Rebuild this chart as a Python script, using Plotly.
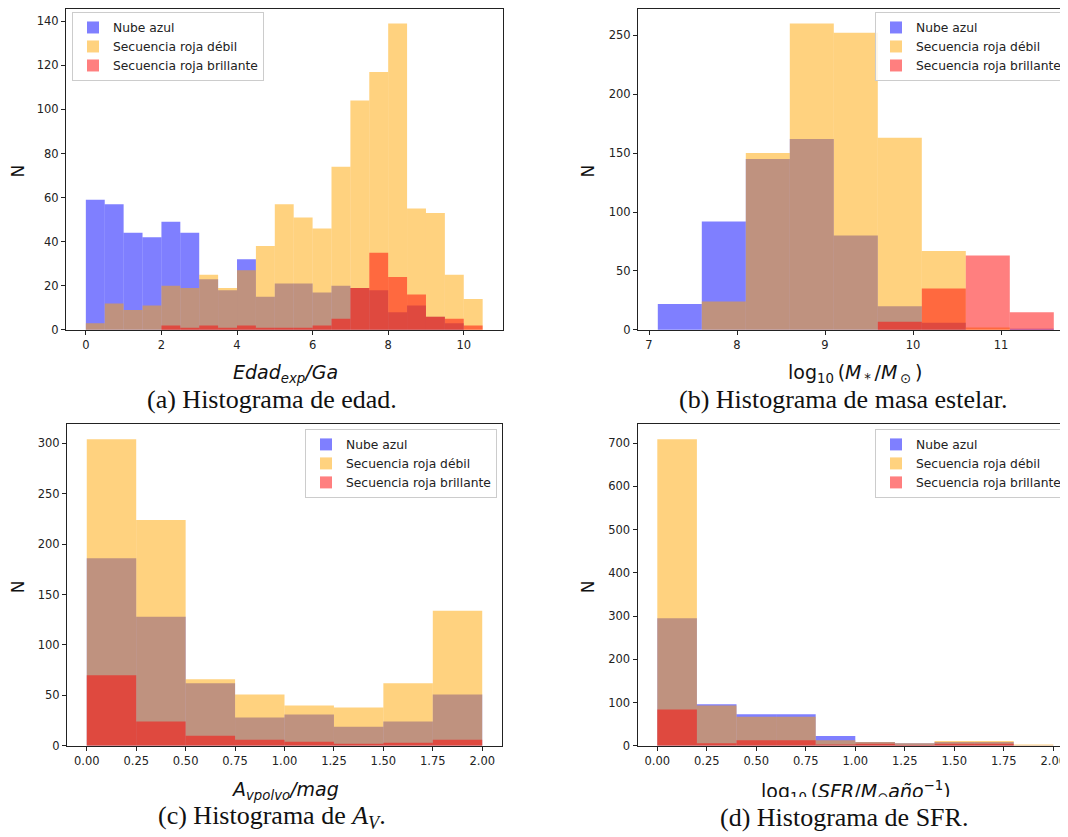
import plotly.graph_objects as go

# the page body adds an 8px margin, so the figure is drawn 8px smaller and
# every reference pixel position is shifted by OFF
OFF = 8
W, H = 1068 - OFF, 837 - OFF

series_names = ["Nube azul", "Secuencia roja débil", "Secuencia roja brillante"]
series_colors = ["rgba(0,0,255,0.5)", "rgba(255,165,0,0.5)", "rgba(255,0,0,0.5)"]

# (a) Edad
edad_edges = [0.0, 0.5, 1.0, 1.5, 2.0, 2.5, 3.0, 3.5, 4.0, 4.5, 5.0, 5.5, 6.0, 6.5, 7.0, 7.5, 8.0, 8.5, 9.0, 9.5, 10.0, 10.5]
edad_azul = [59, 57, 44, 42, 49, 44, 23, 18, 32, 15, 21, 21, 17, 20, 19, 18, 8, 11, 6, 3, 0]
edad_debil = [3, 12, 9, 11, 20, 19, 25, 19, 27, 38, 57, 51, 46, 74, 104, 117, 139, 55, 53, 25, 14]
edad_brillante = [0, 0, 0, 0, 2, 1, 2, 1, 2, 1, 1, 1, 2, 5, 19, 35, 24, 16, 6, 5, 2]

# (b) Masa estelar
masa_edges = [7.1, 7.6, 8.1, 8.6, 9.1, 9.6, 10.1, 10.6, 11.1, 11.6]
masa_azul = [22, 92, 145, 162, 80, 20, 6, 0, 1]
masa_debil = [0, 24, 150, 260, 252, 163, 67, 2, 0]
masa_brillante = [0, 0, 0, 0, 0, 7, 35, 63, 15]

# (c) A_V
av_edges = [0.0, 0.25, 0.5, 0.75, 1.0, 1.25, 1.5, 1.75, 2.0]
av_azul = [186, 128, 62, 28, 31, 19, 24, 51]
av_debil = [304, 224, 66, 51, 40, 38, 62, 134]
av_brillante = [70, 24, 10, 6, 4, 2, 3, 6]

# (d) SFR
sfr_edges = [0.0, 0.2, 0.4, 0.6, 0.8, 1.0, 1.2, 1.4, 1.6, 1.8, 2.0]
sfr_azul = [295, 96, 73, 73, 23, 9, 6, 9, 9, 1]
sfr_debil = [709, 93, 67, 67, 13, 9, 6, 11, 11, 3]
sfr_brillante = [84, 6, 13, 13, 3, 5, 2, 5, 5, 0]

edad_ticks = [0, 2, 4, 6, 8, 10]
masa_ticks = [7, 8, 9, 10, 11]
av_ticks = [0.0, 0.25, 0.5, 0.75, 1.0, 1.25, 1.5, 1.75, 2.0]
sfr_ticks = [0.0, 0.25, 0.5, 0.75, 1.0, 1.25, 1.5, 1.75, 2.0]

captions = ["(a) Histograma de edad.", "(b) Histograma de masa estelar.",
            "(c) Histograma de <i>A<sub>V</sub></i>.", "(d) Histograma de SFR."]
xlabels = ["<i>Edad<sub>exp</sub>/Ga</i>",
           "log<sub>10</sub>\u2009(<i>M</i><sub>\u2009*</sub>\u2009/<i>M</i><sub>\u2009⊙</sub>\u2009)",
           "<i>A<sub>vpolvo</sub>/mag</i>",
           "log<sub>10</sub>\u2009(<i>SFR</i>/<i>M</i><sub>⊙</sub><i>año</i><sup>−1</sup>)"]


def clamp(v):
    return max(0.0, min(1.0, v))


def px_x(v):
    return clamp((v - OFF) / W)


def px_y(v):
    return clamp(1 - (v - OFF) / H)


def centers(edges):
    return [(a + b) / 2 for a, b in zip(edges[:-1], edges[1:])]


def widths(edges):
    return [b - a for a, b in zip(edges[:-1], edges[1:])]


panels = [
    dict(edges=edad_edges, data=[edad_azul, edad_debil, edad_brillante], xa="x", ya="y",
         box=(66, 502.5, 8.5, 332), xr=[-0.525, 11.025], yr=[0, 145.3], xt=edad_ticks, yt=list(range(0, 141, 20)),
         fmt=None, legend="legend", mirror_y=True, ny=(18, 172), xl=(285, 376), cap=(272, 402)),
    dict(edges=masa_edges, data=[masa_azul, masa_debil, masa_brillante], xa="x2", ya="y2",
         box=(638, 1068, 8.5, 332), xr=[6.875, 6.875 + 430 / 88.0], yr=[0, 271.8], xt=masa_ticks, yt=list(range(0, 251, 50)),
         fmt=None, legend="legend2", mirror_y=False, ny=(588, 172), xl=(855, 376), cap=(843, 402)),
    dict(edges=av_edges, data=[av_azul, av_debil, av_brillante], xa="x3", ya="y3",
         box=(67, 502, 427, 752), xr=[-0.1, 2.1], yr=[0, 319.2], xt=av_ticks, yt=list(range(0, 301, 50)),
         fmt=".2f", legend="legend3", mirror_y=True, ny=(18, 592), xl=(285, 797), cap=(272, 824)),
    dict(edges=sfr_edges, data=[sfr_azul, sfr_debil, sfr_brillante], xa="x4", ya="y4",
         box=(637.5, 1068, 427, 752), xr=[-0.1, -0.1 + 430.5 / 198.0], yr=[0, 744.45], xt=sfr_ticks, yt=list(range(0, 701, 100)),
         fmt=".2f", legend="legend4", mirror_y=False, ny=(588, 592), xl=(856, 798), cap=(844, 824)),
]

fig = go.Figure()
layout = dict(width=W, height=H, margin=dict(l=0, r=0, t=0, b=0),
              paper_bgcolor="white", plot_bgcolor="white", barmode="overlay",
              font=dict(family="DejaVu Sans", size=11.5, color="#222222"))
annotations = []

tick_font = dict(family="DejaVu Sans", size=11.5, color="#222222")

for i, p in enumerate(panels):
    cx = centers(p["edges"])
    wd = widths(p["edges"])
    for name, color, vals in zip(series_names, series_colors, p["data"]):
        fig.add_trace(go.Bar(x=cx, y=vals, width=wd, name=name, marker=dict(color=color, line=dict(width=0)),
                             xaxis=p["xa"], yaxis=p["ya"], legend=p["legend"], showlegend=True))
    x0, x1, y0, y1 = p["box"]
    suffix = "" if i == 0 else str(i + 1)
    xaxis = dict(domain=[px_x(x0), px_x(x1)], range=p["xr"], anchor=p["ya"], tickvals=p["xt"],
                 showgrid=False, zeroline=False, showline=True, linecolor="#222222", linewidth=1,
                 mirror=True, ticks="outside", ticklen=4, tickcolor="#222222", tickfont=tick_font)
    if p["fmt"]:
        xaxis["tickformat"] = p["fmt"]
    yaxis = dict(domain=[px_y(y1), px_y(y0)], range=p["yr"], anchor=p["xa"], tickvals=p["yt"],
                 showgrid=False, zeroline=False, showline=True, linecolor="#222222", linewidth=1,
                 mirror=p["mirror_y"], ticks="outside", ticklen=4, tickcolor="#222222", tickfont=tick_font)
    layout["xaxis" + suffix] = xaxis
    layout["yaxis" + suffix] = yaxis

    leg = dict(bgcolor="rgba(255,255,255,0.8)", bordercolor="#cccccc", borderwidth=1,
               font=dict(family="DejaVu Sans", size=12.3, color="#222222"), tracegroupgap=0,
               yanchor="top", itemclick=False)
    if i == 0:
        leg.update(x=px_x(72), y=px_y(11), xanchor="left")
    elif i == 2:
        leg.update(x=px_x(497), y=px_y(432), xanchor="right")
    else:
        leg.update(x=px_x(1067), y=px_y(11 if i == 1 else 432), xanchor="right")
    layout[p["legend"]] = leg

    annotations.append(dict(text="N", x=px_x(p["ny"][0]), y=px_y(p["ny"][1]), xref="paper", yref="paper",
                            showarrow=False, textangle=-90, font=dict(family="DejaVu Sans", size=17, color="#111111"),
                            xanchor="center", yanchor="middle"))
    annotations.append(dict(text=xlabels[i], x=px_x(p["xl"][0]), y=px_y(p["xl"][1]), xref="paper", yref="paper",
                            showarrow=False, font=dict(family="DejaVu Sans", size=19, color="#111111"),
                            xanchor="center", yanchor="middle"))

# the reference crops the bottom of the (d) axis label: mask it with a white box
annotations.append(dict(text=" ", x=px_x(856), y=px_y(803.5), xref="paper", yref="paper", showarrow=False,
                        xanchor="center", yanchor="top", width=230, height=8, bgcolor="white",
                        borderpad=0, borderwidth=0, font=dict(size=1)))

for i, p in enumerate(panels):
    annotations.append(dict(text=captions[i], x=px_x(p["cap"][0]), y=px_y(p["cap"][1]), xref="paper", yref="paper",
                            showarrow=False, font=dict(family="Liberation Serif", size=26, color="#111111"),
                            xanchor="center", yanchor="middle"))

layout["annotations"] = annotations
fig.update_layout(**layout)
fig.write_html("out.html")
